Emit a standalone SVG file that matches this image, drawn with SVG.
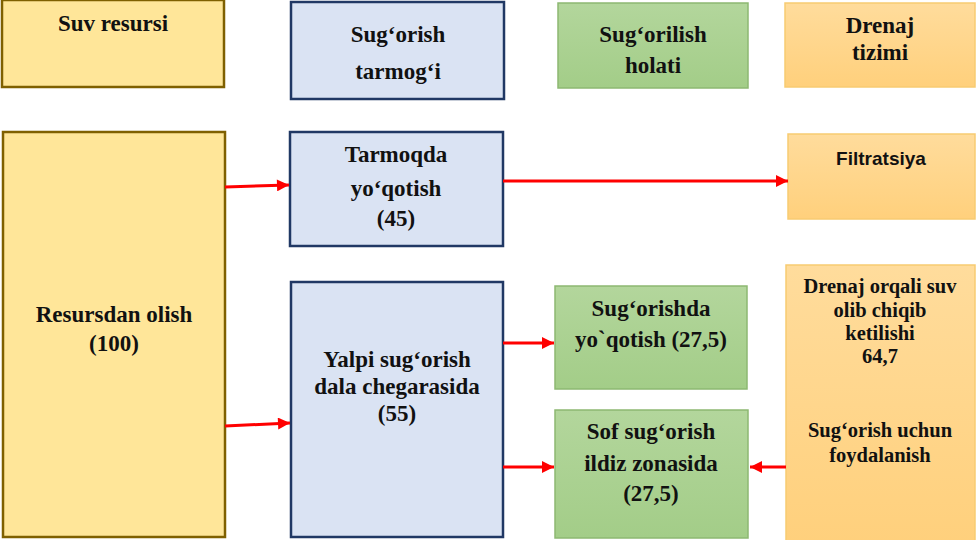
<svg xmlns="http://www.w3.org/2000/svg" width="976" height="540" viewBox="0 0 976 540">
<style>
.t{font-family:"Liberation Serif","Times New Roman",serif;font-weight:bold;font-size:23px;fill:#111;text-anchor:middle}
.s{font-size:20.5px}
.f{font-family:"Liberation Sans",Arial,sans-serif;font-weight:bold;font-size:19px;fill:#111;text-anchor:middle}
.y{fill:#FFE699;stroke:#7F6000;stroke-width:2.5}
.b{fill:#DAE3F3;stroke:#203864;stroke-width:2.5}
.g{fill:url(#gg);stroke:#8DB872;stroke-width:1.5}
.o{fill:url(#og);stroke:#F8CB72;stroke-width:1.5}
.c{stroke:#FF0000;stroke-width:3;fill:none;marker-end:url(#ah)}
</style>
<defs>
<linearGradient id="gg" x1="0" y1="0" x2="0" y2="1"><stop offset="0" stop-color="#B3D69C"/><stop offset="1" stop-color="#A3CD88"/></linearGradient>
<linearGradient id="og" x1="0" y1="0" x2="0" y2="1"><stop offset="0" stop-color="#FFDC9C"/><stop offset="1" stop-color="#FFD07C"/></linearGradient>
<marker id="ah" viewBox="0 0 10 10" refX="10" refY="5" markerWidth="4.5" markerHeight="4" orient="auto" markerUnits="strokeWidth">
<path d="M0,0 L10,5 L0,10 z" fill="#FF0000"/>
</marker>
</defs>
<g id="n-suv-resursi"><rect class="y" x="2" y="0" width="222" height="87"/><text class="t" x="113" y="31">Suv resursi</text></g>
<g id="n-sugorish-tarmogi"><rect class="b" x="291" y="2" width="213" height="97"/><text class="t" x="398" y="42">Sugʻorish</text><text class="t" x="398" y="79">tarmogʻi</text></g>
<g id="n-sugorilish-holati"><rect class="g" x="558" y="3" width="190" height="85"/><text class="t" x="653" y="42">Sugʻorilish</text><text class="t" x="653" y="73">holati</text></g>
<g id="n-drenaj-tizimi"><rect class="o" x="785" y="3" width="190" height="84"/><text class="t" x="880" y="33">Drenaj</text><text class="t" x="880" y="60">tizimi</text></g>
<g id="n-resursdan-olish"><rect class="y" x="3" y="132" width="222" height="405"/><text class="t" x="114" y="322">Resursdan olish</text><text class="t" x="114" y="351">(100)</text></g>
<g id="n-tarmoqda-yoqotish"><rect class="b" x="290" y="132" width="213" height="114"/><text class="t" x="396" y="162">Tarmoqda</text><text class="t" x="396" y="196">yoʻqotish</text><text class="t" x="396" y="226">(45)</text></g>
<g id="n-filtratsiya"><rect class="o" x="788" y="134" width="187" height="85"/><text class="f" x="881" y="165">Filtratsiya</text></g>
<g id="n-yalpi-sugorish"><rect class="b" x="291" y="282" width="212" height="255"/><text class="t" x="397" y="367">Yalpi sug‘orish</text><text class="t" x="397" y="394">dala chegarasida</text><text class="t" x="397" y="421">(55)</text></g>
<g id="n-sugorishda-yoqotish"><rect class="g" x="555" y="286" width="192" height="103"/><text class="t" x="651" y="316">Sug‘orishda</text><text class="t" x="651" y="347">yo`qotish (27,5)</text></g>
<g id="n-sof-sugorish"><rect class="g" x="555" y="410" width="193" height="128"/><text class="t" x="651" y="439">Sof sug‘orish</text><text class="t" x="651" y="471">ildiz zonasida</text><text class="t" x="651" y="501">(27,5)</text></g>
<g id="n-drenaj-orqali"><rect class="o" x="786" y="265" width="189" height="280"/><text class="t s" x="880" y="293">Drenaj orqali suv</text><text class="t s" x="880" y="317">olib chiqib</text><text class="t s" x="880" y="340">ketilishi</text><text class="t s" x="880" y="363">64,7</text><text class="t s" x="880" y="437">Sug‘orish uchun</text><text class="t s" x="880" y="462">foydalanish</text></g>
<g id="connectors">
<path class="c" d="M225,187 L289,185"/>
<path class="c" d="M503,181 L788,181"/>
<path class="c" d="M225,426 L290,423"/>
<path class="c" d="M503,343 L554,343"/>
<path class="c" d="M503,467 L554,467"/>
<path class="c" d="M786,467 L750,467"/>
</g>
</svg>
